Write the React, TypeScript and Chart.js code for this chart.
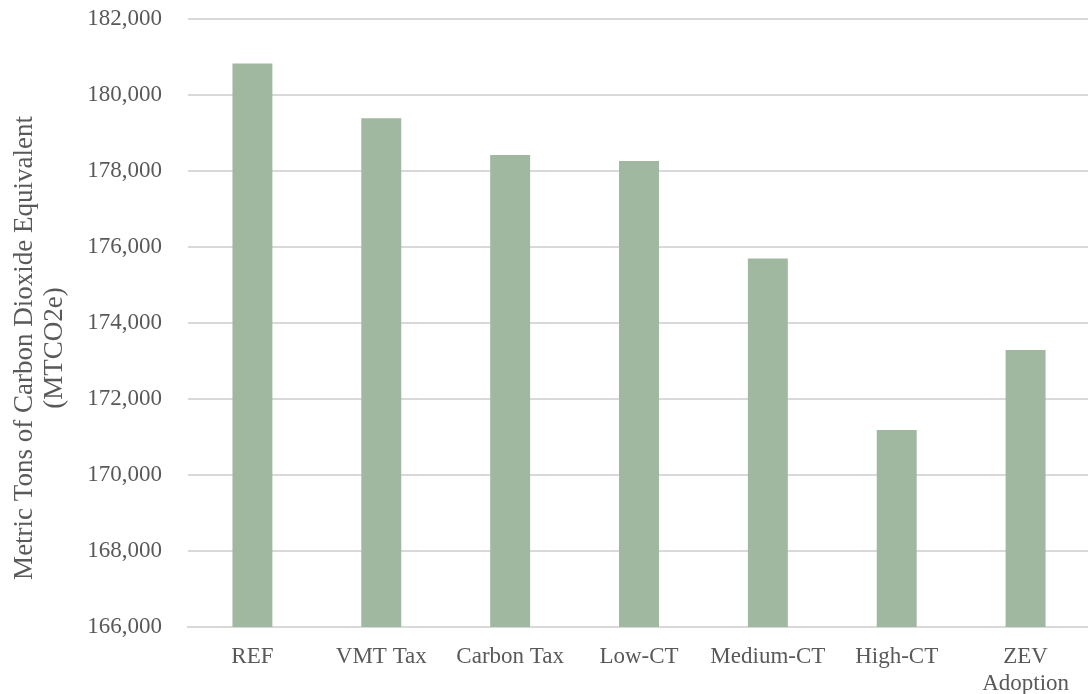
import React, { useEffect, useRef } from "react";
import { Chart, registerables } from "chart.js";

Chart.register(...registerables);

const categories: (string | string[])[] = ["REF", "VMT Tax", "Carbon Tax", "Low-CT", "Medium-CT", "High-CT", ["ZEV", "Adoption"]];
const emissions: number[] = [180830, 179385, 178420, 178265, 175700, 171185, 173290];
const yTitle: string[] = ["Metric Tons of Carbon Dioxide Equivalent", "(MTCO2e)"];
const yMin = 166000;
const yMax = 182000;
const yStep = 2000;

const FONT = "'Liberation Serif', 'Times New Roman', serif";
const TEXT = "#595959";

const yTitlePlugin = {
  id: "yTitlePlugin",
  afterDraw(chart: any) {
    const ctx = chart.ctx;
    ctx.save();
    ctx.fillStyle = TEXT;
    ctx.font = `27px ${FONT}`;
    ctx.textAlign = "center";
    ctx.textBaseline = "alphabetic";
    const baselines = [32, 62];
    const cy = 348;
    yTitle.forEach((line, i) => {
      ctx.save();
      ctx.translate(baselines[i], cy);
      ctx.rotate(-Math.PI / 2);
      ctx.fillText(line, 0, 0);
      ctx.restore();
    });
    ctx.restore();
  },
};

export default function App() {
  const ref = useRef<HTMLCanvasElement | null>(null);
  useEffect(() => {
    if (!ref.current) return;
    const chart = new Chart(ref.current, {
      type: "bar",
      data: {
        labels: categories,
        datasets: [
          {
            data: emissions,
            backgroundColor: "#a1b8a0",
            borderWidth: 0,
            barPercentage: 0.31,
            categoryPercentage: 1,
          },
        ],
      },
      options: {
        animation: false,
        responsive: false,
        maintainAspectRatio: false,
        layout: { padding: { top: 19, right: 2, left: 0, bottom: 0 } },
        plugins: { legend: { display: false }, tooltip: { enabled: false } },
        scales: {
          x: {
            grid: { display: false, drawTicks: false },
            border: { display: true, color: "#d9d9d9", width: 2 },
            ticks: { color: TEXT, font: { family: FONT, size: 23 }, padding: 16, maxRotation: 0, autoSkip: false },
            afterFit: (s: any) => { s.height = 67; s.paddingLeft = 0; s.paddingRight = 0; },
          },
          y: {
            min: yMin,
            max: yMax,
            grid: { color: "#d9d9d9", lineWidth: 2, drawTicks: false },
            border: { display: false },
            ticks: {
              stepSize: yStep,
              color: TEXT,
              font: { family: FONT, size: 23 },
              padding: 26,
              callback: (v: any) => Number(v).toLocaleString("en-US"),
            },
            afterFit: (s: any) => { s.width = 188; s.paddingTop = 0; s.paddingBottom = 0; },
          },
        },
      },
      plugins: [yTitlePlugin],
    });
    return () => chart.destroy();
  }, []);
  return (
    <div style={{ position: "fixed", left: 0, top: 0, width: 1092, height: 694, background: "#fff" }}>
      <canvas ref={ref} width={1092} height={694} style={{ width: 1092, height: 694, display: "block" }} />
    </div>
  );
}
